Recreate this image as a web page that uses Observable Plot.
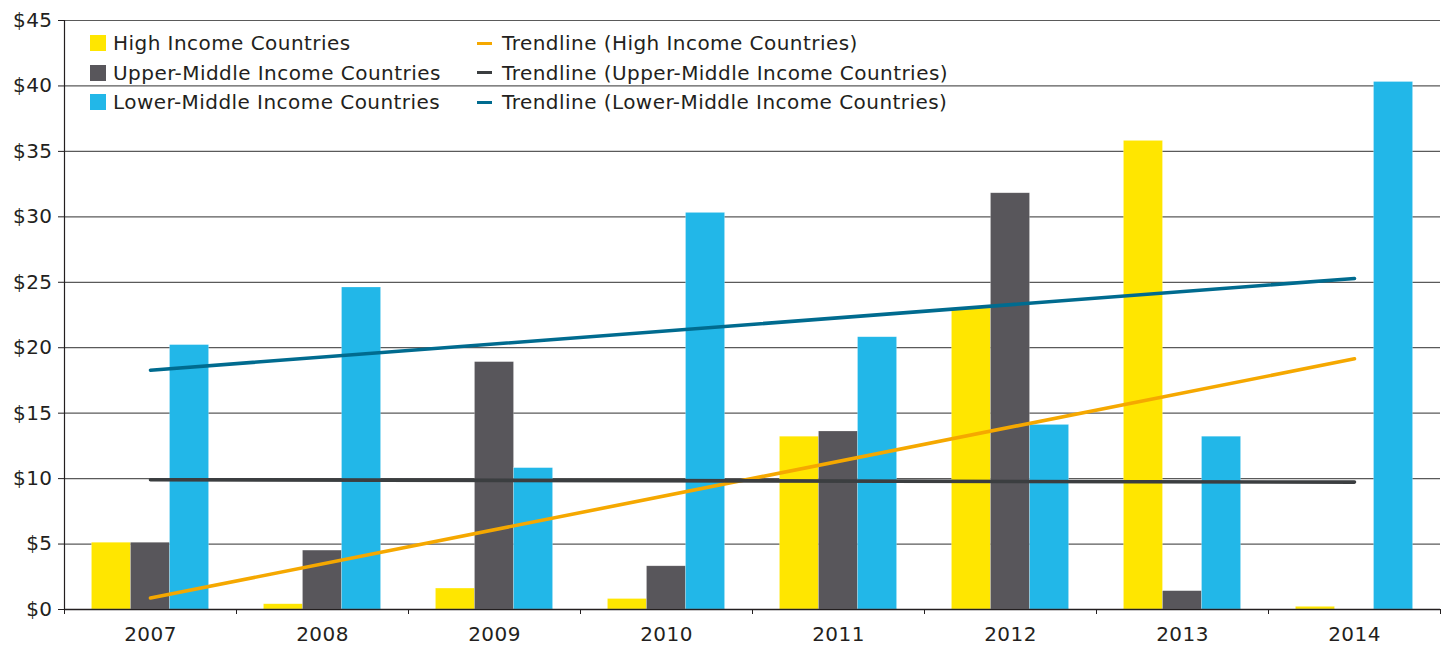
<!DOCTYPE html>
<html>
<head>
<meta charset="utf-8">
<script src="https://cdn.jsdelivr.net/npm/d3@7"></script>
<script src="https://cdn.jsdelivr.net/npm/@observablehq/plot@0.6"></script>
<style>
  html, body { margin: 0; padding: 0; background: #fff; }
  #wrap { position: relative; width: 1441px; height: 645px; font-family: "DejaVu Sans", sans-serif; }
  #legend { position: absolute; left: 90px; top: 28px; font-size: 20px; color: #231f20; letter-spacing: 0.45px; }
  .row { position: absolute; height: 30px; line-height: 30px; white-space: nowrap; }
  .sq { position: absolute; top: 7px; width: 16px; height: 16px; }
  .ln { position: absolute; top: 13.5px; width: 15px; height: 3px; }
  .lbl { position: absolute; }
</style>
</head>
<body>
<div id="wrap"></div>
<script>
const years = [2007, 2008, 2009, 2010, 2011, 2012, 2013, 2014];
const seriesNames = ["High Income Countries", "Upper-Middle Income Countries", "Lower-Middle Income Countries"];
const trendNames = ["Trendline (High Income Countries)", "Trendline (Upper-Middle Income Countries)", "Trendline (Lower-Middle Income Countries)"];
const highIncome = [5.1, 0.4, 1.6, 0.8, 13.2, 23.0, 35.8, 0.2];
const upperMiddleIncome = [5.1, 4.5, 18.9, 3.3, 13.6, 31.8, 1.4, 0];
const lowerMiddleIncome = [20.2, 24.6, 10.8, 30.3, 20.8, 14.1, 13.2, 40.3];
const yTicks = [0, 5, 10, 15, 20, 25, 30, 35, 40, 45];

const barColors = ["#ffe600", "#58565b", "#22b7e8"];
const trendColors = ["#f5a800", "#3b3e40", "#006b8f"];

const valuesBySeries = [highIncome, upperMiddleIncome, lowerMiddleIncome];
const data = [];
valuesBySeries.forEach((vals, k) => {
  vals.forEach((v, i) => data.push({year: years[i], series: seriesNames[k], k, value: v}));
});

const barStep = 0.227;     // bar width in year units
const half = barStep / 2;
const boundaries = [years[0] - 0.5, ...years.map(y => y + 0.5)];

const marks = [
  Plot.gridY(yTicks.filter(t => t > 0), {stroke: "#5a5a5a", strokeOpacity: 1, strokeWidth: 1.2}),
  Plot.rectY(data, {
    x1: d => d.year + (d.k - 1) * barStep - half,
    x2: d => d.year + (d.k - 1) * barStep + half,
    y1: 0,
    y2: "value",
    fill: d => barColors[d.k],
    stroke: "#ffffff",
    strokeOpacity: 0.35,
    strokeWidth: 0.6
  }),
  ...seriesNames.map((s, k) =>
    Plot.linearRegressionY(data.filter(d => d.k === k), {
      x: "year", y: "value", stroke: trendColors[k], strokeWidth: 3.6, ci: 0, strokeLinecap: "round"
    })
  ),
  Plot.ruleX([boundaries[0]], {stroke: "#231f20", strokeWidth: 1.2}),
  Plot.ruleY([0], {stroke: "#231f20", strokeWidth: 1.4}),
  Plot.axisY(yTicks, {label: null, tickSize: 6, tickPadding: 6, tickFormat: d => "$" + d, fontSize: 20, stroke: "#231f20", fill: "#231f20"}),
  Plot.axisX(boundaries, {label: null, tickSize: 5, tickFormat: () => "", stroke: "#231f20"}),
  Plot.axisX(years, {label: null, tickSize: 0, tickPadding: 17, tickFormat: d => String(d), fontSize: 20, fill: "#231f20"})
];

const chart = Plot.plot({
  width: 1441,
  height: 645,
  marginLeft: 64,
  marginRight: 1,
  marginTop: 20,
  marginBottom: 36,
  style: "font-family: 'DejaVu Sans', sans-serif; letter-spacing: 0.45px; background: #fff; overflow: visible;",
  x: {type: "linear", domain: [boundaries[0], boundaries[boundaries.length - 1]], axis: null},
  y: {domain: [0, 45], axis: null},
  marks
});

const wrap = document.getElementById("wrap");
wrap.appendChild(chart);

const legend = document.createElement("div");
legend.id = "legend";
seriesNames.forEach((s, k) => {
  const row = document.createElement("div");
  row.className = "row";
  row.style.top = (k * 29.5) + "px";
  row.style.left = "0px";
  row.innerHTML = `<span class="sq" style="left:0;background:${barColors[k]}"></span><span class="lbl" style="left:23px">${s}</span>`;
  legend.appendChild(row);
});
trendNames.forEach((s, k) => {
  const row = document.createElement("div");
  row.className = "row";
  row.style.top = (k * 29.5) + "px";
  row.style.left = "387px";
  row.innerHTML = `<span class="ln" style="left:0;background:${trendColors[k]}"></span><span class="lbl" style="left:25px">${s}</span>`;
  legend.appendChild(row);
});
wrap.appendChild(legend);
</script>
</body>
</html>
